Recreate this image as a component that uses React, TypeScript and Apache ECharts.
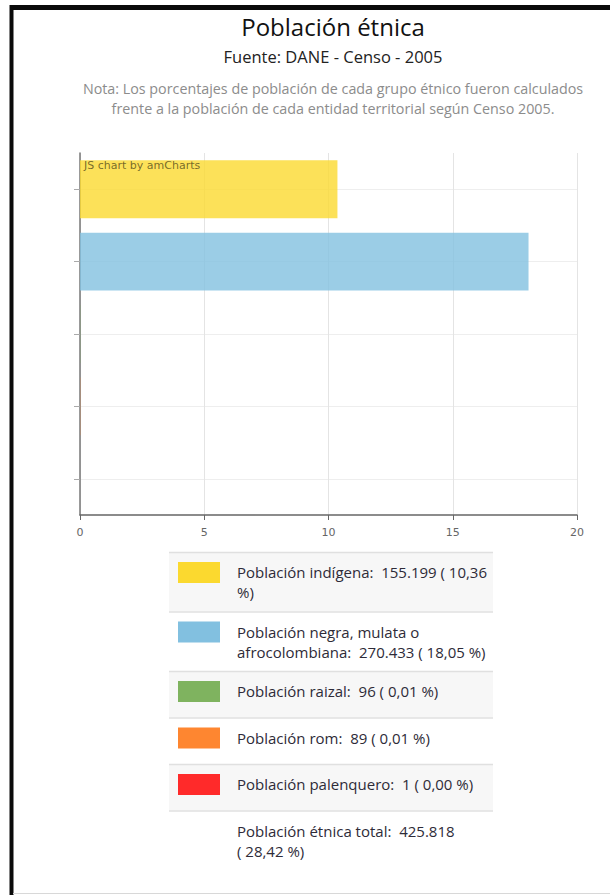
import React, { useEffect, useRef } from "react";
import * as echarts from "echarts";

const categories = [
  "Población indígena",
  "Población negra, mulata o afrocolombiana",
  "Población raizal",
  "Población rom",
  "Población palenquero",
];
const percentages = [10.36, 18.05, 0.01, 0.01, 0.0];
const counts = ["155.199", "270.433", "96", "89", "1"];
const colors = ["#FBD92F", "#82C0E0", "#7FB35F", "#FE8630", "#FF2A2A"];
const xTicks = [0, 5, 10, 15, 20];
const legendLines = [
  ["Población indígena:  155.199 ( 10,36", "%)"],
  ["Población negra, mulata o", "afrocolombiana:  270.433 ( 18,05 %)"],
  ["Población raizal:  96 ( 0,01 %)"],
  ["Población rom:  89 ( 0,01 %)"],
  ["Población palenquero:  1 ( 0,00 %)"],
];
const totalLines = ["Población étnica total:  425.818", "( 28,42 %)"];

const TITLE = "Población étnica";
const SUBTITLE = "Fuente: DANE - Censo - 2005";
const NOTE = [
  "Nota: Los porcentajes de población de cada grupo étnico fueron calculados",
  "frente a la población de cada entidad territorial según Censo 2005.",
];

const FONT = "'Open Sans', 'Noto Sans', sans-serif";

export default function App() {
  const ref = useRef<HTMLDivElement>(null);
  useEffect(() => {
    if (!ref.current) return;
    const chart = echarts.init(ref.current, undefined, { renderer: "svg" });

    const graphics: any[] = [];
    // frame
    graphics.push({ type: "rect", shape: { x: 10, y: 5, width: 600, height: 5 }, style: { fill: "#0a0a0a" }, z: 200 });
    graphics.push({ type: "rect", shape: { x: 9.5, y: 5, width: 4, height: 890 }, style: { fill: "#0a0a0a" }, z: 200 });
    graphics.push({ type: "line", shape: { x1: 13, y1: 893.5, x2: 610, y2: 893.5 }, style: { stroke: "#d8d8d8", lineWidth: 1 }, z: 200 });

    // titles
    graphics.push({ type: "text", x: 333, y: 26, style: { text: TITLE, font: `24px ${FONT}`, fill: "#111", textAlign: "center", textVerticalAlign: "middle" } });
    graphics.push({ type: "text", x: 333, y: 56, style: { text: SUBTITLE, font: `16.5px ${FONT}`, fill: "#222", textAlign: "center", textVerticalAlign: "middle" } });
    NOTE.forEach((t, i) => {
      graphics.push({ type: "text", x: 333, y: 88 + i * 20, style: { text: t, font: `14.3px ${FONT}`, fill: "#8c8c8c", textAlign: "center", textVerticalAlign: "middle" } });
    });

    // watermark
    graphics.push({ type: "text", x: 84, y: 160, z: 100, style: { text: "JS chart by amCharts", font: "11px Verdana, 'DejaVu Sans', sans-serif", fill: "#000", opacity: 0.55, textVerticalAlign: "top" } });

    // legend table
    const left = 169, right = 493;
    let y = 552;
    const rows = legendLines.map((lines, i) => ({ lines, color: colors[i] as string | null }));
    rows.push({ lines: totalLines, color: null });
    rows.forEach((row, i) => {
      const last = i === rows.length - 1;
      const h = last ? 83 : row.lines.length === 2 ? 59.5 : 46.5;
      if (i % 2 === 0) {
        graphics.push({ type: "rect", shape: { x: left, y, width: right - left, height: h }, style: { fill: "#f7f7f7" } });
      }
      graphics.push({ type: "line", shape: { x1: left, y1: y + 0.5, x2: right, y2: y + 0.5 }, style: { stroke: "#e0e0e0", lineWidth: 1.5 } });
      if (row.color) {
        graphics.push({ type: "rect", shape: { x: 178, y: y + 10, width: 42, height: 21 }, style: { fill: row.color } });
      }
      graphics.push({ type: "text", x: 237, y: y + 10, style: { text: row.lines.join("\n"), font: `15px ${FONT}`, lineHeight: 20, fill: "#2e2b38", textVerticalAlign: "top" } });
      y += h;
    });

    chart.setOption({
      animation: false,
      grid: { left: 80, right: 33, top: 153, bottom: 380, containLabel: false },
      xAxis: {
        type: "value",
        min: 0,
        max: 20,
        interval: 5,
        axisLine: { show: true, lineStyle: { color: "#666", width: 1.5 } },
        axisTick: { show: true, length: 5, lineStyle: { color: "#666" } },
        splitLine: { show: true, lineStyle: { color: "#e4e4e4" } },
        axisLabel: { color: "#666", fontSize: 11, margin: 12, fontFamily: "Verdana, 'DejaVu Sans', sans-serif", formatter: (v: number) => (xTicks.includes(v) ? String(v) : "") },
      },
      yAxis: {
        type: "category",
        inverse: true,
        data: categories,
        axisLine: { show: true, lineStyle: { color: "#777", width: 1.5 } },
        axisTick: { show: true, alignWithLabel: true, length: 6, lineStyle: { color: "#aaa" } },
        axisLabel: { show: false },
        splitLine: { show: true, alignWithLabel: true, lineStyle: { color: "#eeeeee" } } as any,
      },
      series: [
        {
          type: "bar",
          barCategoryGap: "20%",
          data: percentages.map((v, i) => ({ value: v, itemStyle: { color: colors[i], opacity: 0.8 } })),
        },
      ],
      graphic: graphics,
    });
    return () => chart.dispose();
  }, []);
  return <div ref={ref} style={{ position: "absolute", left: 0, top: 0, width: 610, height: 895, background: "#fff" }} />;
}
